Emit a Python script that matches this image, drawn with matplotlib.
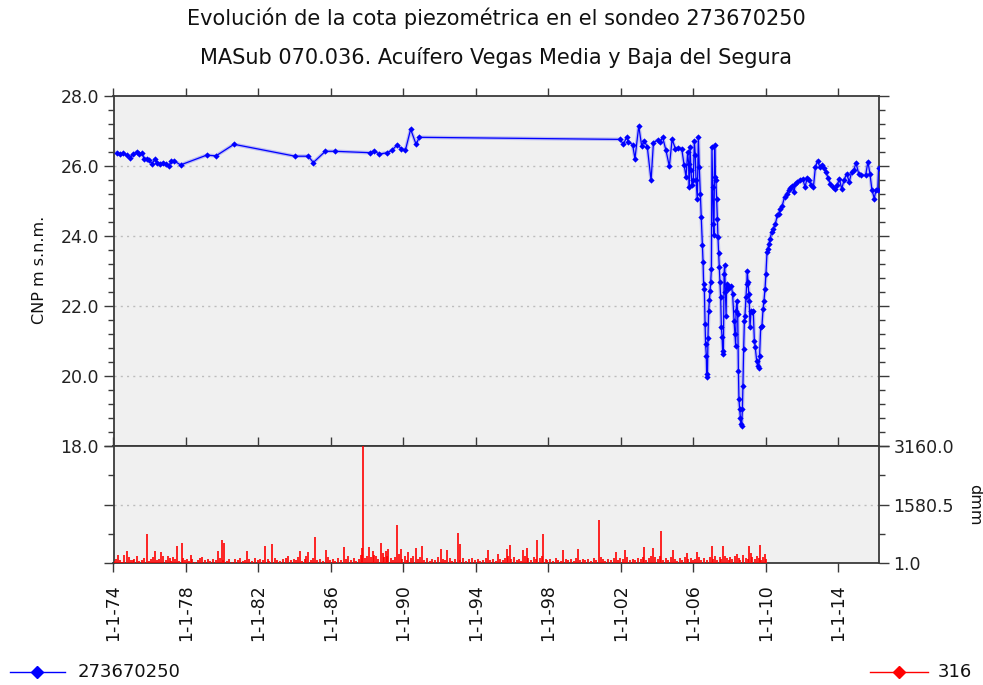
import matplotlib
matplotlib.use("Agg")
import matplotlib.pyplot as plt
from matplotlib.lines import Line2D
from matplotlib.ticker import FixedLocator, MultipleLocator

plt.rcParams['font.family'] = ['DejaVu Sans']

# ---------------- data ----------------
title_1 = "Evolución de la cota piezométrica en el sondeo 273670250"
title_2 = "MASub 070.036. Acuífero Vegas Media y Baja del Segura"
series_level_name = "273670250"
series_rain_name = "316"

# piezometric level (decimal year, m s.n.m.)
level_year = [1974.17, 1974.35, 1974.54, 1974.72, 1974.91, 1975.09, 1975.31, 1975.42,
              1975.59, 1975.68, 1975.83, 1975.97, 1976.12, 1976.29, 1976.41, 1976.56,
              1976.75, 1976.89, 1977.04, 1977.19, 1977.34, 1977.70,
              1979.14, 1979.66, 1980.65, 1984.02, 1984.75, 1985.03, 1985.69, 1986.24,
              1988.16, 1988.38, 1988.67, 1989.11, 1989.37, 1989.67, 1989.87, 1990.11,
              1990.40, 1990.70, 1990.88,
              2001.96, 2002.14, 2002.32, 2002.42, 2002.65, 2002.78, 2002.99, 2003.15,
              2003.30, 2003.46, 2003.67, 2003.80, 2004.03, 2004.16, 2004.31, 2004.49,
              2004.68, 2004.83, 2005.01, 2005.17, 2005.36, 2005.49, 2005.60, 2005.69,
              2005.74, 2005.78, 2005.82, 2005.87, 2005.93, 2006.00, 2006.06, 2006.11,
              2006.15, 2006.22, 2006.28, 2006.33, 2006.39, 2006.44, 2006.50, 2006.54,
              2006.57, 2006.61, 2006.65, 2006.68, 2006.72, 2006.74, 2006.78, 2006.81,
              2006.85, 2006.89, 2006.92, 2006.96, 2007.00, 2007.03, 2007.07, 2007.11,
              2007.14, 2007.18, 2007.22, 2007.25, 2007.29, 2007.33, 2007.36, 2007.40,
              2007.44, 2007.47, 2007.51, 2007.55, 2007.59, 2007.62, 2007.66, 2007.70,
              2007.73, 2007.77, 2007.81, 2007.84, 2007.90, 2007.99, 2008.10, 2008.17,
              2008.25, 2008.30, 2008.34, 2008.36, 2008.41, 2008.45, 2008.49, 2008.52,
              2008.56, 2008.60, 2008.63, 2008.67, 2008.71, 2008.74, 2008.78, 2008.82,
              2008.85, 2008.91, 2008.95, 2008.98, 2009.02, 2009.06, 2009.09, 2009.13,
              2009.19, 2009.24, 2009.31, 2009.37, 2009.42, 2009.50, 2009.55, 2009.61,
              2009.66, 2009.72, 2009.79, 2009.85, 2009.90, 2009.96, 2010.01, 2010.07,
              2010.12, 2010.18, 2010.23, 2010.33, 2010.42, 2010.53, 2010.64, 2010.71,
              2010.80, 2010.90, 2011.04, 2011.15, 2011.26, 2011.34, 2011.45, 2011.56,
              2011.63, 2011.74, 2011.89, 2012.04, 2012.17, 2012.29, 2012.40, 2012.52,
              2012.63, 2012.74, 2012.86, 2012.99, 2013.12, 2013.21, 2013.32, 2013.43,
              2013.55, 2013.69, 2013.82, 2013.95, 2014.06, 2014.19, 2014.32, 2014.46,
              2014.61, 2014.74, 2014.87, 2014.98, 2015.13, 2015.27, 2015.51, 2015.64,
              2015.75, 2015.86, 2015.99, 2016.08, 2016.18, 2016.23]
level_m = [26.38, 26.34, 26.36, 26.31, 26.24, 26.34, 26.41, 26.34,
           26.36, 26.21, 26.21, 26.17, 26.07, 26.19, 26.09, 26.07,
           26.09, 26.05, 25.99, 26.13, 26.15, 26.03,
           26.31, 26.29, 26.62, 26.28, 26.28, 26.10, 26.42, 26.42,
           26.38, 26.43, 26.34, 26.38, 26.45, 26.61, 26.50, 26.45,
           27.05, 26.62, 26.82,
           26.76, 26.62, 26.82, 26.69, 26.61, 26.21, 27.14, 26.58,
           26.71, 26.55, 25.59, 26.67, 26.74, 26.69, 26.82, 26.45,
           25.99, 26.76, 26.50, 26.52, 26.50, 26.04, 25.69, 26.40,
           26.07, 25.40, 26.55, 25.88, 25.45, 25.59, 26.71, 26.31,
           25.59, 25.07, 26.83, 25.97, 25.21, 24.54, 23.73, 23.25,
           22.63, 22.49, 21.49, 20.91, 20.58, 20.05, 19.96, 21.10,
           21.87, 22.17, 22.44, 22.68, 23.06, 26.55, 25.40, 24.35,
           24.02, 26.60, 25.69, 25.59, 25.07, 24.49, 23.97, 23.51,
           23.11, 22.68, 22.25, 21.39, 21.11, 20.72, 20.63, 22.92,
           23.16, 22.39, 21.72, 22.63, 22.49, 22.54, 22.58, 22.34,
           21.58, 21.20, 20.87, 21.87, 22.15, 21.77, 20.15, 19.34,
           19.05, 18.81, 18.62, 18.57, 19.05, 19.72, 20.77, 21.58,
           21.72, 22.25, 22.63, 23.00, 22.68, 22.34, 22.15, 21.39,
           21.87, 21.82, 21.87, 21.01, 20.82, 20.43, 20.29, 20.24,
           20.58, 21.39, 21.44, 21.91, 22.15, 22.49, 22.92, 23.54,
           23.64, 23.78, 23.92, 24.11, 24.21, 24.35, 24.59, 24.64,
           24.78, 24.85, 25.12, 25.21, 25.31, 25.38, 25.42, 25.25,
           25.50, 25.55, 25.61, 25.63, 25.40, 25.67, 25.59, 25.45,
           25.40, 25.97, 26.15, 25.97, 26.02, 25.93, 25.83, 25.67,
           25.50, 25.40, 25.35, 25.45, 25.64, 25.35, 25.59, 25.78,
           25.55, 25.83, 25.90, 26.09, 25.78, 25.75, 25.73, 26.12,
           25.78, 25.32, 25.07, 25.31, 25.32, 25.95]

# rainfall (decimal year, dmm)
rain_year = [1974.23, 1974.36, 1974.58, 1974.73, 1975.28, 1975.85, 1976.29, 1976.60,
             1976.75, 1977.03, 1977.27, 1977.52, 1977.76, 1978.26, 1978.77, 1979.79,
             1979.97, 1980.12, 1981.35, 1982.36, 1982.77, 1983.65, 1984.29, 1984.75,
             1985.12, 1985.71, 1986.72, 1987.70, 1987.79, 1988.10, 1988.30, 1988.74,
             1989.02, 1989.17, 1989.63, 1989.88, 1990.27, 1990.68, 1991.01, 1992.07,
             1992.42, 1993.03, 1993.12, 1994.65, 1995.24, 1995.70, 1995.88, 1996.62,
             1996.80, 1997.39, 1997.72, 1998.83, 1999.65, 2000.79, 2001.71, 2002.23,
             2003.30, 2003.79, 2004.22, 2004.90, 2005.63, 2006.18, 2007.01, 2007.65,
             2008.39, 2008.76, 2009.09, 2009.68, 2009.95,
             1974.05, 1974.15, 1974.45, 1974.85, 1974.95, 1975.05, 1975.15, 1975.40,
             1975.55, 1975.70, 1975.95, 1976.05, 1976.20, 1976.40, 1976.50, 1976.90,
             1977.10, 1977.20, 1977.40, 1977.60, 1977.85, 1977.95, 1978.05, 1978.15,
             1978.35, 1978.50, 1978.65, 1978.90, 1979.05, 1979.20, 1979.35, 1979.50,
             1979.65, 1979.88, 1980.05, 1980.25, 1980.40, 1980.55, 1980.70, 1980.85,
             1981.00, 1981.15, 1981.25, 1981.50, 1981.65, 1981.80, 1981.95, 1982.10,
             1982.25, 1982.50, 1982.60, 1982.90, 1983.05, 1983.20, 1983.35, 1983.50,
             1983.80, 1983.95, 1984.10, 1984.20, 1984.40, 1984.55, 1984.65, 1984.90,
             1985.00, 1985.25, 1985.40, 1985.55, 1985.85, 1985.95, 1986.10, 1986.25,
             1986.40, 1986.55, 1986.85, 1986.95, 1987.10, 1987.25, 1987.40, 1987.55,
             1987.65, 1987.90, 1988.00, 1988.20, 1988.40, 1988.50, 1988.60, 1988.85,
             1988.95, 1989.10, 1989.30, 1989.45, 1989.55, 1989.75, 1989.95, 1990.10,
             1990.20, 1990.40, 1990.55, 1990.80, 1990.92, 1991.15, 1991.30, 1991.45,
             1991.60, 1991.75, 1991.90, 1992.20, 1992.30, 1992.55, 1992.70, 1992.85,
             1993.15, 1993.30, 1993.45, 1993.60, 1993.80, 1993.95, 1994.10, 1994.25,
             1994.40, 1994.55, 1994.80, 1994.95, 1995.10, 1995.35, 1995.50, 1995.60,
             1995.78, 1995.95, 1996.10, 1996.25, 1996.40, 1996.50, 1996.70, 1996.90,
             1997.05, 1997.20, 1997.30, 1997.55, 1997.65, 1997.85, 1997.95, 1998.10,
             1998.25, 1998.40, 1998.55, 1998.70, 1998.95, 1999.10, 1999.25, 1999.40,
             1999.55, 1999.75, 1999.90, 2000.05, 2000.20, 2000.35, 2000.50, 2000.65,
             2000.90, 2001.00, 2001.15, 2001.30, 2001.45, 2001.60, 2001.85, 2001.95,
             2002.10, 2002.35, 2002.50, 2002.65, 2002.80, 2002.95, 2003.10, 2003.20,
             2003.40, 2003.55, 2003.65, 2003.90, 2004.05, 2004.15, 2004.35, 2004.50,
             2004.60, 2004.75, 2005.00, 2005.10, 2005.25, 2005.40, 2005.55, 2005.70,
             2005.85, 2006.00, 2006.10, 2006.30, 2006.45, 2006.60, 2006.75, 2006.90,
             2007.10, 2007.20, 2007.30, 2007.45, 2007.55, 2007.75, 2007.85, 2007.95,
             2008.05, 2008.15, 2008.30, 2008.50, 2008.60, 2008.90, 2009.00, 2009.16,
             2009.25, 2009.40, 2009.50, 2009.60, 2009.75, 2009.85, 2010.00]
rain_dmm = [228, 90, 228, 337, 182, 773, 337, 291,
            182, 182, 150, 473, 546, 209, 137, 319,
            610, 546, 319, 464, 519, 180, 319, 300,
            710, 364, 428, 410, 3160, 428, 319, 546,
            337, 391, 1019, 382, 300, 410, 455, 382,
            364, 801, 522, 346, 250, 387, 482, 364,
            414, 630, 773, 364, 380, 1156, 300, 364,
            428, 410, 865, 364, 260, 300, 455, 473,
            250, 230, 455, 500, 250,
            60, 110, 40, 150, 70, 90, 120, 45,
            80, 130, 60, 100, 150, 70, 120, 90,
            140, 60, 110, 50, 130, 80, 120, 60,
            100, 40, 90, 150, 70, 120, 50, 110,
            80, 140, 90, 60, 120, 40, 100, 70,
            130, 50, 90, 110, 60, 140, 80, 120,
            70, 100, 50, 130, 90, 60, 110, 140,
            70, 120, 80, 150, 60, 100, 180, 90,
            130, 70, 110, 50, 160, 80, 120, 60,
            140, 90, 110, 180, 70, 130, 50, 100,
            220, 140, 200, 160, 230, 180, 120, 260,
            150, 200, 130, 90, 160, 240, 110, 180,
            90, 140, 200, 120, 160, 80, 130, 60,
            110, 90, 150, 100, 70, 130, 60, 110,
            90, 140, 60, 100, 130, 70, 110, 50,
            90, 130, 80, 120, 60, 100, 70, 140,
            200, 110, 150, 80, 120, 60, 180, 130,
            90, 160, 110, 140, 200, 120, 80, 110,
            60, 130, 90, 50, 120, 80, 110, 60,
            140, 90, 120, 70, 110, 50, 130, 90,
            160, 100, 60, 120, 80, 140, 90, 130,
            100, 150, 70, 120, 90, 140, 110, 160,
            80, 130, 200, 150, 110, 180, 90, 130,
            70, 150, 110, 60, 130, 90, 160, 100,
            140, 80, 120, 170, 90, 130, 70, 160,
            120, 200, 90, 150, 110, 180, 130, 90,
            160, 110, 200, 140, 90, 130, 100, 260,
            150, 110, 180, 130, 90, 160, 120]

x_tick_years = [1974, 1978, 1982, 1986, 1990, 1994, 1998, 2002, 2006, 2010, 2014]
x_tick_labels = ["1-1-74", "1-1-78", "1-1-82", "1-1-86", "1-1-90", "1-1-94",
                 "1-1-98", "1-1-02", "1-1-06", "1-1-10", "1-1-14"]
level_ticks = [18.0, 20.0, 22.0, 24.0, 26.0, 28.0]
rain_ticks = [1.0, 1580.5, 3160.0]

# ---------------- figure ----------------
W, H = 983, 685
fig = plt.figure(figsize=(W / 100, H / 100), dpi=100)
fig.patch.set_facecolor("white")

x_left, x_right = 113.5, 879
y_top, y_mid, y_bot = 96, 446, 563
ax = fig.add_axes([x_left / W, 1 - y_mid / H, (x_right - x_left) / W, (y_mid - y_top) / H])
axb = fig.add_axes([x_left / W, 1 - y_bot / H, (x_right - x_left) / W, (y_bot - y_mid) / H])

bg = "#F0F0F0"
spine_c = "#3A3A3A"
grid_c = "#BDBDBD"
xmin, xmax = 1974.0, 2016.25
fs = 12.5

for a in (ax, axb):
    a.set_facecolor(bg)
    a.set_xlim(xmin, xmax)
    for s in a.spines.values():
        s.set_color(spine_c)
        s.set_linewidth(1.3)

# main panel
ax.plot(level_year, level_m, color="#0000FF", lw=2.6, alpha=0.22, zorder=2)
ax.plot(level_year, level_m, color="#0000FF", lw=0.9, marker="D", ms=3.2,
        markeredgewidth=0, zorder=3)
ax.set_ylim(18, 28)
ax.yaxis.set_major_locator(FixedLocator(level_ticks))
ax.yaxis.set_minor_locator(MultipleLocator(0.4))
ax.set_yticklabels([f"{v:.1f}" for v in level_ticks])
ax.tick_params(axis="y", which="both", left=True, right=True, direction="out",
               labelleft=True, labelright=False, colors=spine_c, labelcolor="#222222",
               labelsize=fs, width=1.0)
ax.tick_params(axis="y", which="major", length=7)
ax.tick_params(axis="y", which="minor", length=4.5)
ax.xaxis.set_major_locator(FixedLocator(x_tick_years))
ax.tick_params(axis="x", which="both", top=True, bottom=False, labeltop=False,
               labelbottom=False, direction="out", length=6, width=1.0, colors=spine_c)
for v in level_ticks[1:-1]:
    ax.axhline(v, color=grid_c, lw=1.0, ls=(0, (1.5, 3)), zorder=1)

# rain panel
axb.vlines(rain_year, 1.0, rain_dmm, color="#FF0000", lw=1.2, zorder=3)
axb.set_ylim(1.0, 3160.0)
axb.yaxis.set_major_locator(FixedLocator(rain_ticks))
axb.yaxis.set_minor_locator(FixedLocator([790.75, 2370.25]))
axb.set_yticklabels([f"{v:.1f}" for v in rain_ticks])
axb.tick_params(axis="y", which="both", left=True, right=True, direction="out",
                labelleft=False, labelright=True, colors=spine_c, labelcolor="#222222",
                labelsize=fs, width=1.0)
axb.tick_params(axis="y", which="major", length=7)
axb.tick_params(axis="y", which="minor", length=4.5)
axb.axhline(1580.5, color=grid_c, lw=1.0, ls=(0, (1.5, 3)), zorder=1)
axb.xaxis.set_major_locator(FixedLocator(x_tick_years))
axb.set_xticklabels(x_tick_labels, rotation=90)
axb.tick_params(axis="x", which="both", top=True, bottom=True, labeltop=False,
                labelbottom=True, direction="out", length=6.5, width=1.0,
                colors=spine_c, labelcolor="#111111", labelsize=fs, pad=9)

# titles and axis labels
fig.text(0.505, 1 - 18 / H, title_1, ha="center", va="center", fontsize=15, color="#111111")
fig.text(0.505, 1 - 57 / H, title_2, ha="center", va="center", fontsize=15, color="#111111")
fig.text(40 / W, 1 - 270 / H, "CNP m s.n.m.", rotation=90, ha="center", va="center",
         fontsize=11.5, color="#111111")
fig.text(975 / W, 1 - 505 / H, "dmm", rotation=270, ha="center", va="center",
         fontsize=11.5, color="#111111")

# legend (drawn in figure coordinates)
ly = 1 - 672 / H
fig.add_artist(Line2D([10 / W, 65 / W], [ly, ly], transform=fig.transFigure,
                      color="#0000FF", lw=1.0))
fig.add_artist(Line2D([37 / W], [ly], transform=fig.transFigure, color="#0000FF",
                      marker="D", ms=6, lw=0))
fig.text(78 / W, ly, series_level_name, ha="left", va="center", fontsize=13, color="#111111")
fig.add_artist(Line2D([870 / W, 928 / W], [ly, ly], transform=fig.transFigure,
                      color="#FF0000", lw=1.0))
fig.add_artist(Line2D([899 / W], [ly], transform=fig.transFigure, color="#FF0000",
                      marker="D", ms=6, lw=0))
fig.text(938 / W, ly, series_rain_name, ha="left", va="center", fontsize=13, color="#111111")

fig.savefig("out.png", dpi=100, facecolor="white")
